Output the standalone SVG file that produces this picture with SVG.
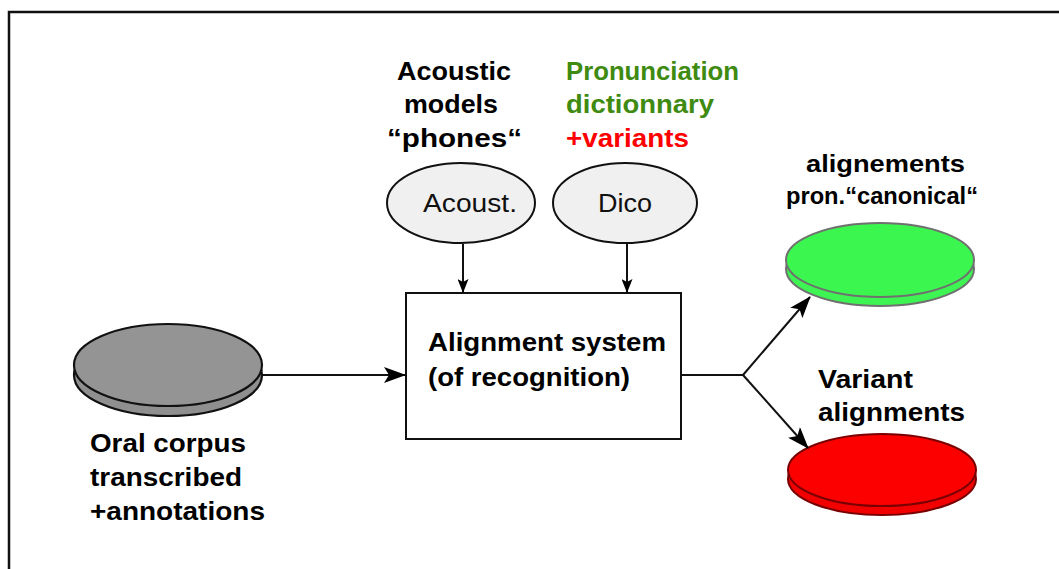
<svg xmlns="http://www.w3.org/2000/svg" width="1059" height="569" viewBox="0 0 1059 569">
  <style>
    .lbl { font-family: "Liberation Sans", Arial, sans-serif; font-weight: bold; font-size: 26px; fill: #000; }
    .node-txt { font-family: "Liberation Sans", Arial, sans-serif; font-size: 25px; fill: #111; }
    .conn { stroke: #111; stroke-width: 2; fill: none; }
    .oval { fill: #f0f0f0; stroke: #111; stroke-width: 2; }
  </style>
  <defs>
    <marker id="arrow" viewBox="0 0 22 16" refX="21" refY="8" markerWidth="22" markerHeight="16" markerUnits="userSpaceOnUse" orient="auto">
      <path d="M0,0 L22,8 L0,16 L5,8 Z" fill="#000"/>
    </marker>
    <marker id="arrow-sm" viewBox="0 0 14 11" refX="13" refY="5.5" markerWidth="14" markerHeight="11" markerUnits="userSpaceOnUse" orient="auto">
      <path d="M0,0 L14,5.5 L0,11 L3,5.5 Z" fill="#000"/>
    </marker>
  </defs>

  <rect width="1059" height="569" fill="#fff"/>
  <!-- outer frame -->
  <rect x="9" y="12" width="1100" height="600" fill="none" stroke="#111" stroke-width="2.5"/>

  <!-- source corpus disk -->
  <g id="corpus">
    <ellipse cx="168" cy="375" rx="94" ry="41" fill="#8f8f8f" stroke="#111" stroke-width="2.2"/>
    <ellipse cx="168" cy="365" rx="94" ry="41" fill="#949494" stroke="#111" stroke-width="2.2"/>
    <text class="lbl" x="90" y="452" textLength="156" lengthAdjust="spacingAndGlyphs">Oral corpus</text>
    <text class="lbl" x="90" y="486" textLength="152" lengthAdjust="spacingAndGlyphs">transcribed</text>
    <text class="lbl" x="90" y="520" textLength="175" lengthAdjust="spacingAndGlyphs">+annotations</text>
  </g>

  <!-- acoustic models -->
  <g id="acoust">
    <text class="lbl" x="397" y="80" textLength="114" lengthAdjust="spacingAndGlyphs">Acoustic</text>
    <text class="lbl" x="404" y="113" textLength="94" lengthAdjust="spacingAndGlyphs">models</text>
    <text class="lbl" x="387" y="147" textLength="135" lengthAdjust="spacingAndGlyphs">“phones“</text>
    <ellipse class="oval" cx="461" cy="203" rx="74" ry="40"/>
    <text class="node-txt" x="423" y="212" textLength="94" lengthAdjust="spacingAndGlyphs">Acoust.</text>
  </g>

  <!-- pronunciation dictionary -->
  <g id="dico">
    <text class="lbl" x="566" y="80" style="fill:#3f8a10" textLength="173" lengthAdjust="spacingAndGlyphs">Pronunciation</text>
    <text class="lbl" x="566" y="113" style="fill:#3f8a10" textLength="148" lengthAdjust="spacingAndGlyphs">dictionnary</text>
    <text class="lbl" x="566" y="147" style="fill:#ff0000" textLength="123" lengthAdjust="spacingAndGlyphs">+variants</text>
    <ellipse class="oval" cx="625" cy="203" rx="72" ry="40"/>
    <text class="node-txt" x="598" y="212" textLength="54" lengthAdjust="spacingAndGlyphs">Dico</text>
  </g>

  <!-- aligner -->
  <g id="aligner">
    <rect x="406" y="293" width="275" height="146" fill="#fff" stroke="#111" stroke-width="2"/>
    <text class="lbl" x="428" y="351" textLength="238" lengthAdjust="spacingAndGlyphs">Alignment system</text>
    <text class="lbl" x="428" y="386" textLength="202" lengthAdjust="spacingAndGlyphs">(of recognition)</text>
  </g>

  <!-- canonical alignments -->
  <g id="canonical">
    <text class="lbl" x="806" y="172" style="font-size:24px" textLength="159" lengthAdjust="spacingAndGlyphs">alignements</text>
    <text class="lbl" x="786" y="204" style="font-size:24px" textLength="192" lengthAdjust="spacingAndGlyphs">pron.“canonical“</text>
    <ellipse cx="880" cy="269" rx="94" ry="37" fill="#3ef452" stroke="#707070" stroke-width="2"/>
    <ellipse cx="880" cy="260" rx="94" ry="37" fill="#3cf650" stroke="#707070" stroke-width="2"/>
  </g>

  <!-- variant alignments -->
  <g id="variants">
    <text class="lbl" x="818" y="388" textLength="95" lengthAdjust="spacingAndGlyphs">Variant</text>
    <text class="lbl" x="818" y="421" textLength="147" lengthAdjust="spacingAndGlyphs">alignments</text>
    <ellipse cx="882" cy="479" rx="94" ry="36" fill="#f20000" stroke="#7a0000" stroke-width="2"/>
    <ellipse cx="882" cy="470" rx="94" ry="36" fill="#fc0000" stroke="#7a0000" stroke-width="2"/>
  </g>

  <!-- connectors -->
  <g id="connectors">
    <line class="conn" x1="262" y1="375" x2="405" y2="375" marker-end="url(#arrow)"/>
    <line class="conn" x1="463" y1="244" x2="463" y2="292" marker-end="url(#arrow-sm)"/>
    <line class="conn" x1="627" y1="244" x2="627" y2="292" marker-end="url(#arrow-sm)"/>
    <polyline class="conn" points="681,375 743,375"/>
    <line class="conn" x1="743" y1="375" x2="810" y2="297" marker-end="url(#arrow)"/>
    <line class="conn" x1="743" y1="375" x2="808" y2="448" marker-end="url(#arrow)"/>
  </g>
</svg>
